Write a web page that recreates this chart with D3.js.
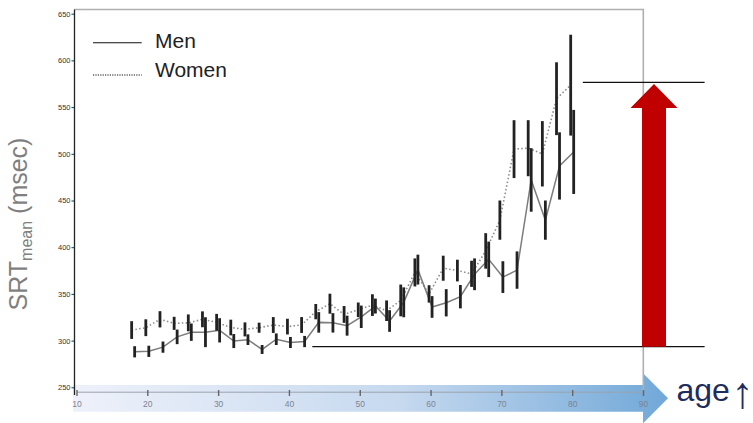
<!DOCTYPE html>
<html>
<head>
<meta charset="utf-8">
<script src="https://cdn.jsdelivr.net/npm/d3@7"></script>
<style>
  body { margin: 0; background: #fff; }
  svg { display: block; font-family: "Liberation Sans", Arial, sans-serif; }
</style>
</head>
<body>
<div id="container"></div>
<script>
// ages (every 2 years) and mean SRT per group
const ages = [18, 20, 22, 24, 26, 28, 30, 32, 34, 36, 38, 40, 42, 44, 46, 48,
  50, 52, 54, 56, 58, 60, 62, 64, 66, 68, 70, 72, 74, 76, 78, 80];

const menMean = [288, 288.5, 293, 304, 309, 309, 311, 299.5, 301, 290.5, 301.5, 298, 299, 319.5, 319, 316,
  325.5, 337, 321, 341, 376, 336, 340.5, 347, 371, 387, 368, 375.5, 472, 429, 487, 502];
const menErr = [6, 6, 6, 7.8, 9.3, 16, 13, 7.5, 5.7, 4.8, 6.2, 5.9, 6, 11, 10.4, 10.7,
  12, 8, 11.6, 16, 16, 11.6, 14.6, 12.5, 17, 19, 17, 20, 34, 21, 36, 45];

const womenMean = [311.3, 313.8, 322.8, 318.5, 319, 322.8, 319.6, 314, 312, 313.8, 316.7, 315, 316.7, 331, 339.5, 328,
  333, 338, 332, 343, 373, 350, 377.5, 375, 371.5, 396, 429, 505, 506, 500, 559, 573.5];
const womenErr = [9.5, 9, 8.7, 7, 9, 8.5, 9, 8.4, 7.5, 5.4, 8.5, 8.4, 8.5, 8.2, 10.7, 9,
  7.8, 11.6, 11, 17, 15, 9.3, 13.4, 11.6, 14, 19, 21, 31, 30, 35, 39, 54];

const xTicks = [10, 20, 30, 40, 50, 60, 70, 80, 90];
const yTicks = [250, 300, 350, 400, 450, 500, 550, 600, 650];

// reference levels (msec) and the age span of each horizontal line
const refLines = [
  {value: 293.5, from: 43.3, to: 98.7},
  {value: 576.5, from: 81.5, to: 98.7}
];

const W = 753, H = 423;

const svg = d3.select("#container").append("svg")
  .attr("width", W)
  .attr("height", H);

const x = d3.scaleLinear().domain([10, 90]).range([76.5, 643]);
const y = d3.scaleLinear().domain([250, 650]).range([387.3, 13.7]);

// blue "age" arrow behind the x axis
const defs = svg.append("defs");
const grad = defs.append("linearGradient").attr("id", "ageGrad")
  .attr("x1", "0%").attr("x2", "100%").attr("y1", "0%").attr("y2", "0%");
grad.append("stop").attr("offset", "0%").attr("stop-color", "#eef1fa");
grad.append("stop").attr("offset", "55%").attr("stop-color", "#c6d9ef");
grad.append("stop").attr("offset", "100%").attr("stop-color", "#71a8d8");

const bx0 = x(10) - 3.5, bx1 = x(90), tip = bx1 + 25;
const byTop = 385, byBot = 411.7, mid = (byTop + byBot) / 2;
svg.append("path")
  .attr("d", `M${bx0},${byTop}H${bx1}V${mid - 25}L${tip},${mid}L${bx1},${mid + 25}V${byBot}H${bx0}Z`)
  .attr("fill", "url(#ageGrad)");

// frame (top + right in light gray)
svg.append("path")
  .attr("d", `M${x(10) - 2},9.5H${x(90) + 0.3}V391`)
  .attr("fill", "none")
  .attr("stroke", "#b0b0b0")
  .attr("stroke-width", 1.6);

// y axis
const yAxis = svg.append("g")
  .attr("transform", `translate(${x(10) - 2},0)`)
  .call(d3.axisLeft(y).tickValues(yTicks).tickSize(3).tickPadding(1));
yAxis.select(".domain").remove();
yAxis.selectAll("text").style("font-size", "7.5px").attr("fill", "#333");
yAxis.selectAll("line").attr("stroke", "#333");
svg.append("line")
  .attr("x1", x(10) - 2).attr("x2", x(10) - 2)
  .attr("y1", 9.5).attr("y2", 395)
  .attr("stroke", "#222").attr("stroke-width", 1.3);

// x axis
const xAxis = svg.append("g")
  .attr("transform", "translate(0,390)")
  .call(d3.axisBottom(x).tickValues(xTicks).tickSize(6).tickPadding(5).tickSizeOuter(0));
xAxis.select(".domain").attr("stroke", "#9aa3ad").attr("transform", "translate(0,1.7)");
xAxis.selectAll("line").attr("stroke", "#666").attr("stroke-width", 1.4);
xAxis.selectAll("text").style("font-size", "8.5px").attr("fill", "#7d8590");

// reference lines
svg.selectAll(".ref").data(refLines).join("line")
  .attr("class", "ref")
  .attr("x1", d => x(d.from)).attr("x2", d => x(d.to))
  .attr("y1", d => y(d.value)).attr("y2", d => y(d.value))
  .attr("stroke", "#111").attr("stroke-width", 1.2);

// series
const women = ages.map((a, i) => ({age: a, mean: womenMean[i], err: womenErr[i]}));
const men = ages.map((a, i) => ({age: a, mean: menMean[i], err: menErr[i]}));

const lineW = d3.line().x(d => x(d.age) - 1.5).y(d => y(d.mean));
const lineM = d3.line().x(d => x(d.age) + 1.5).y(d => y(d.mean));

svg.append("path").datum(women)
  .attr("fill", "none").attr("stroke", "#8c8c8c")
  .attr("stroke-width", 1.6).attr("stroke-dasharray", "1.5,2.3")
  .attr("d", lineW);
svg.append("path").datum(men)
  .attr("fill", "none").attr("stroke", "#7d7d7d")
  .attr("stroke-width", 1.5)
  .attr("d", lineM);

svg.selectAll(".errW").data(women).join("line")
  .attr("class", "errW")
  .attr("x1", d => x(d.age) - 1.5).attr("x2", d => x(d.age) - 1.5)
  .attr("y1", d => y(d.mean - d.err)).attr("y2", d => y(d.mean + d.err))
  .attr("stroke", "#222").attr("stroke-width", 2.8);
svg.selectAll(".errM").data(men).join("line")
  .attr("class", "errM")
  .attr("x1", d => x(d.age) + 1.5).attr("x2", d => x(d.age) + 1.5)
  .attr("y1", d => y(d.mean - d.err)).attr("y2", d => y(d.mean + d.err))
  .attr("stroke", "#222").attr("stroke-width", 2.8);

// red arrow between the two reference levels
const ax = 654, shaft = 12, head = 23.5;
const yLow = y(refLines[0].value), yHigh = y(refLines[1].value) + 1.7;
svg.append("path")
  .attr("d", `M${ax - shaft},${yLow}V${yHigh + 24}H${ax - head}L${ax},${yHigh}L${ax + head},${yHigh + 24}H${ax + shaft}V${yLow}Z`)
  .attr("fill", "#c00000");

// legend
const legend = [
  {label: "Men", dash: null, y: 42.7, ty: 48.3},
  {label: "Women", dash: "1.2,1.2", y: 75, ty: 77.3}
];
legend.forEach(d => {
  svg.append("line")
    .attr("x1", 93).attr("x2", 141.7)
    .attr("y1", d.y).attr("y2", d.y)
    .attr("stroke", "#111").attr("stroke-width", 1.1)
    .attr("stroke-dasharray", d.dash);
  svg.append("text")
    .attr("x", 155).attr("y", d.ty)
    .style("font-size", "21px").attr("fill", "#222")
    .text(d.label);
});

// y label
const yl = svg.append("text")
  .attr("transform", "translate(26.7,224) rotate(-90)")
  .attr("text-anchor", "middle")
  .style("font-size", "25px")
  .attr("fill", "#7f7f7f");
yl.append("tspan").text("SRT");
yl.append("tspan").attr("dy", 5).style("font-size", "16px").text("mean");
yl.append("tspan").attr("dy", -5).text(" (msec)");

// age label
svg.append("text")
  .attr("x", 676.5).attr("y", 400.7)
  .style("font-size", "32px")
  .attr("fill", "#1f2d5c")
  .text("age");
svg.append("text")
  .attr("x", 742.5).attr("y", 408)
  .attr("text-anchor", "middle")
  .style("font-size", "44px")
  .attr("fill", "#1f2d5c")
  .text("\u2191");
</script>
</body>
</html>
